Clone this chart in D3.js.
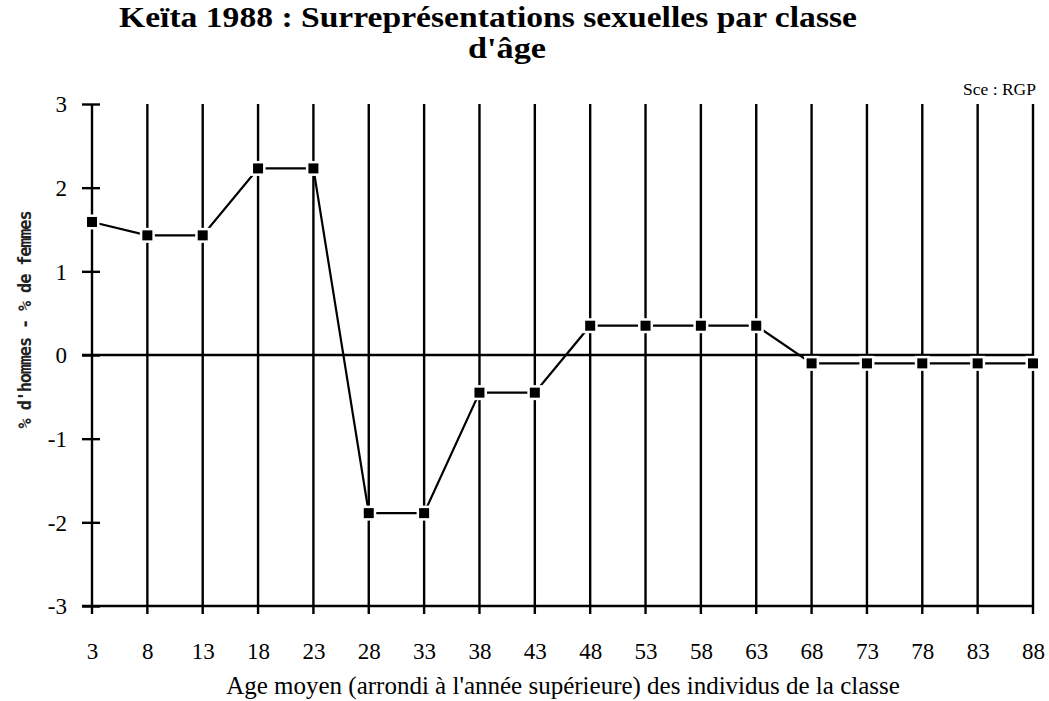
<!DOCTYPE html>
<html>
<head>
<meta charset="utf-8">
<script src="https://cdn.jsdelivr.net/npm/d3@7"></script>
<style>
  html, body { margin: 0; padding: 0; background: #fff; }
  svg { display: block; }
</style>
</head>
<body>
<svg id="chart" width="1049" height="701"></svg>
<script>
// Age classes (mean age, rounded up) and excess of men over women (% points)
const ages = [3, 8, 13, 18, 23, 28, 33, 38, 43, 48, 53, 58, 63, 68, 73, 78, 83, 88];
const surplus = [1.59, 1.43, 1.43, 2.23, 2.23, -1.89, -1.89, -0.45, -0.45,
                 0.35, 0.35, 0.35, 0.35, -0.10, -0.10, -0.10, -0.10, -0.10];
const yTicks = [-3, -2, -1, 0, 1, 2, 3];

const titleLines = ["Keïta 1988 : Surreprésentations sexuelles par classe", "d'âge"];
const sourceNote = "Sce : RGP";
const xTitle = "Age moyen (arrondi à l'année supérieure) des individus de la classe";
const yTitle = "% d'hommes - % de femmes";

const svg = d3.select("#chart");
const serif = "'Liberation Serif', 'Times New Roman', serif";

const x = d3.scalePoint().domain(ages).range([92, 1033]);
const y = d3.scaleLinear().domain([-3, 3]).range([606, 104]);

// Vertical lines through every age class, running past the bottom axis as ticks
svg.append("g")
  .selectAll("line")
  .data(ages)
  .join("line")
  .attr("x1", d => x(d)).attr("x2", d => x(d))
  .attr("y1", y(3)).attr("y2", y(-3) + 8)
  .attr("stroke", "#000").attr("stroke-width", 2.4);

// Zero line and bottom axis line
svg.append("g")
  .selectAll("line")
  .data([0, -3])
  .join("line")
  .attr("x1", 82).attr("x2", x(88) + 1)
  .attr("y1", d => y(d)).attr("y2", d => y(d))
  .attr("stroke", "#000").attr("stroke-width", 2.4);

// Y axis ticks and labels (plain hyphen for negatives)
const yAxis = d3.axisLeft(y).tickValues(yTicks).tickFormat(d => String(d))
  .tickSize(0).tickPadding(0);
const gy = svg.append("g").attr("transform", `translate(${x(3)},0)`).call(yAxis);
gy.select(".domain").remove();
gy.selectAll(".tick line")
  .attr("x1", -10).attr("x2", 8)
  .attr("stroke", "#000").attr("stroke-width", 2.4);
gy.selectAll(".tick text")
  .attr("x", -25).attr("dy", "0.34em")
  .attr("font-family", serif).attr("font-size", 23).attr("fill", "#000");

// X axis labels
const xAxis = d3.axisBottom(x).tickSize(0).tickPadding(0);
const gx = svg.append("g").attr("transform", `translate(0,${y(-3)})`).call(xAxis);
gx.select(".domain").remove();
gx.selectAll(".tick line").remove();
gx.selectAll(".tick text")
  .attr("y", 53).attr("dy", 0)
  .attr("font-family", serif).attr("font-size", 23).attr("fill", "#000");

// Data line
svg.append("path")
  .datum(ages.map((a, i) => [a, surplus[i]]))
  .attr("fill", "none").attr("stroke", "#000").attr("stroke-width", 2.2)
  .attr("d", d3.line().x(d => x(d[0])).y(d => y(d[1])));

// Square markers with a white halo
const pts = svg.append("g")
  .selectAll("g")
  .data(ages.map((a, i) => [a, surplus[i]]))
  .join("g")
  .attr("transform", d => `translate(${x(d[0])},${y(d[1])})`);
pts.append("rect").attr("x", -7.5).attr("y", -7.5).attr("width", 15).attr("height", 15).attr("fill", "#fff");
pts.append("rect").attr("x", -5).attr("y", -5).attr("width", 10).attr("height", 10).attr("fill", "#000");

// Title (two lines, tight leading)
svg.append("text")
  .attr("x", 488).attr("y", 27)
  .attr("text-anchor", "middle")
  .attr("font-family", serif).attr("font-weight", "bold").attr("font-size", 28.5)
  .attr("textLength", 738).attr("lengthAdjust", "spacingAndGlyphs")
  .text(titleLines[0]);
svg.append("text")
  .attr("x", 507).attr("y", 58)
  .attr("text-anchor", "middle")
  .attr("font-family", serif).attr("font-weight", "bold").attr("font-size", 28.5)
  .attr("textLength", 78).attr("lengthAdjust", "spacingAndGlyphs")
  .text(titleLines[1]);

// Source note
svg.append("text")
  .attr("x", 1036).attr("y", 95)
  .attr("text-anchor", "end")
  .attr("font-family", serif).attr("font-size", 17.5)
  .text(sourceNote);

// Axis titles
svg.append("text")
  .attr("x", 563).attr("y", 694)
  .attr("text-anchor", "middle")
  .attr("font-family", serif).attr("font-size", 25)
  .text(xTitle);

svg.append("text")
  .attr("transform", "translate(31,320) rotate(-90)")
  .attr("text-anchor", "middle")
  .attr("font-family", "'DejaVu Sans Mono', 'Liberation Mono', monospace")
  .attr("font-weight", "bold").attr("font-size", 17)
  .attr("letter-spacing", -1.2)
  .attr("fill", "#222")
  .text(yTitle);
</script>
</body>
</html>
